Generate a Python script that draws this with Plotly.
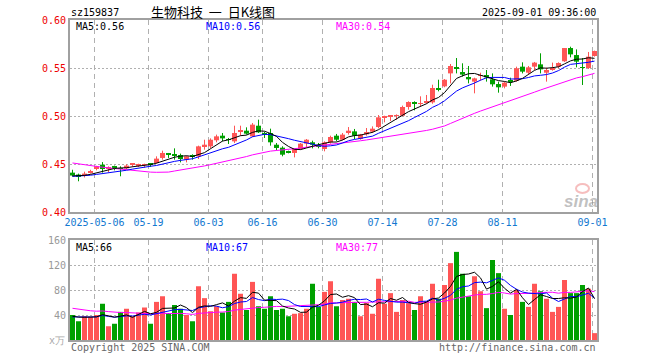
import plotly.graph_objects as go
import pandas as pd

# ---------------- data ----------------
tick_idx = [4, 13, 23, 32, 42, 52, 62, 72, 87]
tick_labels = ["2025-05-06", "05-19", "06-03", "06-16", "06-30",
               "07-14", "07-28", "08-11", "09-01"]

open_ = [0.4410, 0.4390, 0.4380, 0.4410, 0.4448, 0.4493, 0.4448, 0.4468, 0.4455, 0.4455,
         0.4493, 0.4486, 0.4490, 0.4503, 0.4510, 0.4563, 0.4604, 0.4594, 0.4594, 0.4545,
         0.4583, 0.4580, 0.4684, 0.4684, 0.4747, 0.4795, 0.4757, 0.4736, 0.4840, 0.4847,
         0.4788, 0.4899, 0.4813, 0.4823, 0.4701, 0.4670, 0.4625, 0.4615, 0.4656, 0.4712,
         0.4726, 0.4687, 0.4656, 0.4726, 0.4795, 0.4753, 0.4823, 0.4840, 0.4760, 0.4809,
         0.4837, 0.4885, 0.4983, 0.4994, 0.5000, 0.5003, 0.5094, 0.5146, 0.5125, 0.5142,
         0.5142, 0.5292, 0.5309, 0.5444, 0.5510, 0.5458, 0.5406, 0.5358, 0.5417, 0.5427,
         0.5382, 0.5333, 0.5306, 0.5375, 0.5368, 0.5514, 0.5451, 0.5514, 0.5538, 0.5451,
         0.5486, 0.5514, 0.5570, 0.5708, 0.5635, 0.5503, 0.5500, 0.5625]
high = [0.4440, 0.4400, 0.4420, 0.4440, 0.4480, 0.4520, 0.4476, 0.4483, 0.4476, 0.4497,
        0.4510, 0.4503, 0.4503, 0.4510, 0.4580, 0.4639, 0.4615, 0.4663, 0.4608, 0.4587,
        0.4601, 0.4691, 0.4753, 0.4767, 0.4806, 0.4823, 0.4771, 0.4899, 0.4899, 0.4882,
        0.4927, 0.4962, 0.4837, 0.4868, 0.4719, 0.4684, 0.4639, 0.4663, 0.4719, 0.4760,
        0.4743, 0.4719, 0.4736, 0.4795, 0.4813, 0.4823, 0.4885, 0.4865, 0.4813, 0.4875,
        0.4892, 0.5010, 0.5003, 0.5010, 0.5017, 0.5108, 0.5153, 0.5153, 0.5205, 0.5219,
        0.5326, 0.5378, 0.5385, 0.5542, 0.5604, 0.5549, 0.5521, 0.5399, 0.5451, 0.5479,
        0.5444, 0.5358, 0.5358, 0.5399, 0.5514, 0.5559, 0.5521, 0.5563, 0.5653, 0.5503,
        0.5556, 0.5559, 0.5708, 0.5722, 0.5694, 0.5604, 0.5667, 0.5681]
low = [0.4370, 0.4320, 0.4360, 0.4400, 0.4434, 0.4410, 0.4413, 0.4434, 0.4372, 0.4448,
       0.4469, 0.4469, 0.4462, 0.4469, 0.4503, 0.4545, 0.4563, 0.4545, 0.4517, 0.4517,
       0.4545, 0.4552, 0.4649, 0.4663, 0.4726, 0.4736, 0.4708, 0.4719, 0.4795, 0.4806,
       0.4781, 0.4823, 0.4771, 0.4691, 0.4642, 0.4580, 0.4611, 0.4569, 0.4649, 0.4670,
       0.4663, 0.4663, 0.4632, 0.4712, 0.4736, 0.4747, 0.4806, 0.4760, 0.4753, 0.4795,
       0.4823, 0.4872, 0.4934, 0.4948, 0.4962, 0.4997, 0.5066, 0.5059, 0.5101, 0.5128,
       0.5128, 0.5257, 0.5299, 0.5340, 0.5444, 0.5410, 0.5340, 0.5236, 0.5368, 0.5358,
       0.5306, 0.5243, 0.5288, 0.5313, 0.5358, 0.5444, 0.5427, 0.5479, 0.5444, 0.5358,
       0.5472, 0.5497, 0.5563, 0.5611, 0.5507, 0.5323, 0.5490, 0.5618]
close = [0.4380, 0.4370, 0.4400, 0.4420, 0.4476, 0.4448, 0.4462, 0.4462, 0.4448, 0.4483,
         0.4500, 0.4493, 0.4497, 0.4497, 0.4556, 0.4615, 0.4597, 0.4587, 0.4552, 0.4580,
         0.4576, 0.4684, 0.4701, 0.4753, 0.4788, 0.4767, 0.4750, 0.4823, 0.4847, 0.4816,
         0.4910, 0.4830, 0.4806, 0.4726, 0.4667, 0.4597, 0.4618, 0.4656, 0.4712, 0.4753,
         0.4701, 0.4684, 0.4726, 0.4781, 0.4753, 0.4806, 0.4847, 0.4795, 0.4806, 0.4833,
         0.4868, 0.4986, 0.4986, 0.4997, 0.5003, 0.5094, 0.5146, 0.5125, 0.5128, 0.5146,
         0.5292, 0.5274, 0.5378, 0.5521, 0.5490, 0.5431, 0.5382, 0.5392, 0.5420, 0.5403,
         0.5330, 0.5299, 0.5347, 0.5354, 0.5497, 0.5462, 0.5507, 0.5556, 0.5486, 0.5479,
         0.5490, 0.5552, 0.5708, 0.5642, 0.5566, 0.5500, 0.5618, 0.5677]
volume = [40, 30, 38, 37, 40, 58, 22, 26, 45, 50,
          38, 44, 52, 26, 61, 70, 43, 56, 50, 40,
          30, 86, 67, 46, 54, 44, 61, 106, 74, 48,
          93, 54, 50, 70, 48, 50, 38, 42, 43, 50,
          90, 53, 77, 94, 54, 64, 66, 61, 38, 59,
          42, 98, 58, 75, 45, 64, 59, 48, 70, 62,
          90, 66, 88, 123, 141, 106, 70, 102, 78, 51,
          128, 107, 50, 40, 80, 61, 53, 90, 78, 66,
          45, 53, 96, 75, 75, 88, 82, 11]

# sessions before the first visible day (estimated from where the MA lines start)
prior_close = [0.468, 0.470, 0.471, 0.469, 0.467, 0.466, 0.468, 0.467, 0.466, 0.468,
               0.468, 0.468, 0.465, 0.462, 0.458, 0.456, 0.425, 0.428, 0.424, 0.427,
               0.434, 0.437, 0.436, 0.439, 0.437, 0.436, 0.438, 0.437, 0.439]
prior_volume = [80, 88, 56, 60, 48, 52, 62, 55, 50, 58,
                52, 60, 48, 55, 50, 60, 45, 52, 58, 63,
                34, 38, 35, 37, 36, 37, 39, 36, 38]

price_legend = ["MA5:0.56", "MA10:0.56", "MA30:0.54"]
volume_legend = ["MA5:66", "MA10:67", "MA30:77"]
price_ticks = [0.40, 0.45, 0.50, 0.55, 0.60]
volume_ticks = [40, 80, 120, 160]

# ---------------- derived ----------------
n = len(close)
xs = list(range(n))
npc = len(prior_close)
ext_c = pd.Series(prior_close + close)
ext_v = pd.Series(prior_volume + volume)
ma = {w: ext_c.rolling(w).mean().iloc[npc:].tolist() for w in (5, 10, 30)}
vma = {w: ext_v.rolling(w).mean().iloc[npc:].tolist() for w in (5, 10, 30)}
up = [c >= o for o, c in zip(open_, close)]

RED = "#ff5555"
GREEN = "#00a000"
MA_COL = {5: "#000000", 10: "#0000ff", 30: "#ff00ff"}
MONO = "DejaVu Sans Mono"

L, R, T, B = 70, 63, 20, 20
W, H = 660, 360
PW, PH = W - L - R, H - T - B


def px(xp):
    return (xp - L) / PW


def py(yp):
    return (H - B - yp) / PH


fig = go.Figure()

for flag, col in ((True, RED), (False, GREEN)):
    wx, wy = [], []
    for i in xs:
        if up[i] == flag:
            wx += [i, i, None]
            wy += [low[i], high[i], None]
    fig.add_trace(go.Scatter(x=wx, y=wy, mode="lines", line=dict(color=col, width=1),
                             xaxis="x", yaxis="y", hoverinfo="skip"))
    idx = [i for i in xs if up[i] == flag]
    fig.add_trace(go.Bar(
        x=idx,
        y=[max(abs(close[i] - open_[i]), 0.0009) for i in idx],
        base=[min(open_[i], close[i]) for i in idx],
        width=5 / 6, marker=dict(color=col, line=dict(width=0)),
        xaxis="x", yaxis="y", hoverinfo="skip"))
    fig.add_trace(go.Bar(
        x=idx, y=[volume[i] for i in idx], width=5 / 6,
        marker=dict(color=col, line=dict(width=0)),
        xaxis="x2", yaxis="y2", hoverinfo="skip"))

for w in (30, 10, 5):
    fig.add_trace(go.Scatter(x=xs, y=ma[w], mode="lines",
                             line=dict(color=MA_COL[w], width=1),
                             xaxis="x", yaxis="y", hoverinfo="skip"))
    fig.add_trace(go.Scatter(x=xs, y=vma[w], mode="lines",
                             line=dict(color=MA_COL[w], width=1),
                             xaxis="x2", yaxis="y2", hoverinfo="skip"))

xr = [-2.5 / 6, n - 1 + 2.5 / 6]
grid_x = [k - 1 / 3 for k in tick_idx]
AX = dict(showline=True, mirror=True, linecolor="#a0a0a0", linewidth=2,
          zeroline=False, ticks="")

fig.update_layout(
    width=W, height=H, margin=dict(l=L, r=R, t=T, b=B),
    paper_bgcolor="white", plot_bgcolor="white",
    showlegend=False, barmode="overlay", hovermode=False,
    font=dict(family=MONO, size=10, color="#000"),
    xaxis=dict(domain=[0, 1], anchor="y", range=xr, tickmode="array",
               tickvals=grid_x, ticktext=tick_labels,
               tickfont=dict(family=MONO, size=10, color="#1278d0"),
               showgrid=True, gridcolor="#b0b0b0", gridwidth=1, griddash="5px,4px",
               **AX),
    yaxis=dict(domain=[py(212), 1], anchor="x", range=[0.40, 0.60], tickmode="array",
               tickvals=price_ticks, ticktext=[f"{v:.2f}" for v in price_ticks],
               tickfont=dict(family=MONO, size=10, color="#ee0000"),
               showgrid=True, gridcolor="#b0b0b0", gridwidth=1, griddash="2px,2px",
               **AX),
    xaxis2=dict(domain=[0, 1], anchor="y2", range=xr, matches="x", tickmode="array",
                tickvals=grid_x, showticklabels=False,
                showgrid=True, gridcolor="#b0b0b0", gridwidth=1, griddash="5px,4px",
                **AX),
    yaxis2=dict(domain=[0, py(240)], anchor="x2", range=[0, 160], tickmode="array",
                tickvals=volume_ticks, ticktext=[str(v) for v in volume_ticks],
                tickfont=dict(family=MONO, size=10, color="#999999"),
                showgrid=True, gridcolor="#b0b0b0", gridwidth=1, griddash="2px,2px",
                **AX),
)


def note(text, x, y, anchor="left", color="#000", size=10, family=MONO, **kw):
    fig.add_annotation(text=text, x=px(x), y=py(y), xref="paper", yref="paper",
                       xanchor=anchor, yanchor="middle", showarrow=False,
                       font=dict(family=family, size=size, color=color, **kw),
                       borderpad=0)


NB = "\u00a0\u00a0"
note("sz159837", 70, 12)
note("生物科技" + NB + "一" + NB + "日K线图", 150, 11.5, size=13, family="Noto Sans CJK SC")
note("2025-09-01 09:36:00", 597, 12, anchor="right")
for t, x0, c in zip(price_legend, (75, 205, 335), ("#000", "#0000ff", "#ff00ff")):
    note(t, x0, 27, color=c)
for t, x0, c in zip(volume_legend, (75, 205, 335), ("#000", "#0000ff", "#ff00ff")):
    note(t, x0, 247, color=c)
note("x万", 66, 340, anchor="right", color="#aaaaaa")
note("Copyright 2025 SINA.COM", 70, 347, color="#666666")
note("http://finance.sina.com.cn", 597, 347, anchor="right", color="#666666")
note("sina", 581, 201, anchor="center", color="rgba(140,140,140,0.55)", size=17,
     family="Liberation Sans", style="italic", weight="bold")
fig.add_shape(type="circle", xref="paper", yref="paper",
              x0=px(576), x1=px(589), y0=py(193), y1=py(184),
              line=dict(color="rgba(235,110,110,0.45)", width=2))

fig.write_html("out.html", config={"displayModeBar": False},
               post_script="document.body.style.margin='0';document.body.style.padding='0';")
